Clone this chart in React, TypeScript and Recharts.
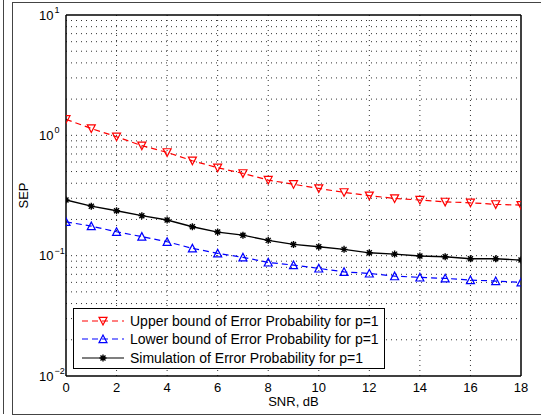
import React from 'react';
import { LineChart, Line, XAxis, YAxis, ReferenceLine, Legend } from 'recharts';

const FONT = '"Liberation Sans", Arial, Helvetica, sans-serif';

const SNR = [0, 1, 2, 3, 4, 5, 6, 7, 8, 9, 10, 11, 12, 13, 14, 15, 16, 17, 18];
const UPPER = [1.36, 1.14, 0.973, 0.82, 0.722, 0.615, 0.538, 0.483, 0.425, 0.392, 0.362, 0.336, 0.315, 0.299, 0.29, 0.28, 0.275, 0.267, 0.263];
const LOWER = [0.191, 0.176, 0.158, 0.144, 0.1305, 0.115, 0.1045, 0.0968, 0.0879, 0.0835, 0.0784, 0.0734, 0.0712, 0.0676, 0.066, 0.0648, 0.0627, 0.0615, 0.06];
const SIM = [0.29, 0.258, 0.236, 0.215, 0.198, 0.174, 0.157, 0.148, 0.134, 0.124, 0.1186, 0.1128, 0.1056, 0.103, 0.0993, 0.098, 0.0943, 0.0943, 0.0919];

const SERIES_NAMES = [
  'Upper bound of Error Probability for p=1',
  'Lower bound of Error Probability for p=1',
  'Simulation of Error Probability for p=1',
];

const X_TICKS = [0, 2, 4, 6, 8, 10, 12, 14, 16, 18];
const X_GRID = [2, 4, 6, 8, 10, 12, 14, 16];
const Y_TICKS = [0.01, 0.1, 1, 10];
const Y_TICK_EXP = ['\u22122', '\u22121', '0', '1'];
const Y_MINOR = [
  0.02, 0.03, 0.04, 0.05, 0.06, 0.07, 0.08, 0.09,
  0.2, 0.3, 0.4, 0.5, 0.6, 0.7, 0.8, 0.9,
  2, 3, 4, 5, 6, 7, 8, 9,
];
const Y_GRID = [...Y_MINOR, 0.1, 1];

const rows = SNR.map((s, i) => ({ snr: s, upper: UPPER[i], lower: LOWER[i], sim: SIM[i] }));

const RED = '#ff0000';
const BLUE = '#0000ff';
const BLACK = '#000000';

const DownTri = ({ cx, cy, color }: any) => (
  <path d={`M${cx - 4},${cy - 3.6} L${cx + 4},${cy - 3.6} L${cx},${cy + 4} Z`} fill="none" stroke={color} strokeWidth={1.2} />
);
const UpTri = ({ cx, cy, color }: any) => (
  <path d={`M${cx - 4},${cy + 3.6} L${cx + 4},${cy + 3.6} L${cx},${cy - 4} Z`} fill="none" stroke={color} strokeWidth={1.2} />
);
const Star = ({ cx, cy, color }: any) => (
  <path
    d={`M${cx - 3.5},${cy} L${cx + 3.5},${cy} M${cx},${cy - 3.5} L${cx},${cy + 3.5} M${cx - 2.5},${cy - 2.5} L${cx + 2.5},${cy + 2.5} M${cx - 2.5},${cy + 2.5} L${cx + 2.5},${cy - 2.5}`}
    fill="none"
    stroke={color}
    strokeWidth={1.4}
  />
);

const YTick = (props: any) => {
  const { x, y, payload } = props;
  const idx = Y_TICKS.indexOf(payload.value);
  const exp = idx >= 0 ? Y_TICK_EXP[idx] : '';
  return (
    <text x={x - 27} y={y + 4.6} fontSize={13} fill="#000" fontFamily={FONT}>
      <tspan>10</tspan>
      <tspan dx={1} dy={-6.5} fontSize={9}>{exp}</tspan>
    </text>
  );
};

const renderLegend = () => {
  const items = [
    { name: SERIES_NAMES[0], color: RED, dash: '6 4', M: DownTri },
    { name: SERIES_NAMES[1], color: BLUE, dash: '6 4', M: UpTri },
    { name: SERIES_NAMES[2], color: BLACK, dash: undefined, M: Star },
  ];
  return (
    <div
      style={{
        boxSizing: 'border-box',
        width: 312,
        height: 61,
        border: '1px solid #000',
        background: '#fff',
        paddingTop: 3,
        fontFamily: FONT,
        fontSize: 14,
        color: '#000',
      }}
    >
      {items.map((it) => (
        <div key={it.name} style={{ display: 'flex', alignItems: 'center', height: 18.3, whiteSpace: 'nowrap' }}>
          <svg width={56} height={18} style={{ display: 'block', flex: '0 0 56px' }}>
            <line x1={8} y1={9} x2={50} y2={9} stroke={it.color} strokeWidth={1.2} strokeDasharray={it.dash} />
            <it.M cx={29} cy={9} color={it.color} />
          </svg>
          <span style={{ lineHeight: '18px' }}>{it.name}</span>
        </div>
      ))}
    </div>
  );
};

const xLabel = (props: any) => {
  const vb = props.viewBox || {};
  return (
    <text x={vb.x + vb.width / 2} y={vb.y + 30} textAnchor="middle" fontSize={13} fill="#000" fontFamily={FONT}>
      SNR, dB
    </text>
  );
};

const yLabel = (props: any) => {
  const vb = props.viewBox || {};
  const x = vb.x + 12;
  const y = vb.y + vb.height / 2;
  return (
    <text x={x} y={y} textAnchor="middle" fontSize={13} fill="#000" fontFamily={FONT} transform={`rotate(-90 ${x} ${y})`}>
      SEP
    </text>
  );
};

const AX = { stroke: '#000', strokeWidth: 1.5 };
const TL = { stroke: '#000', strokeWidth: 1 };

export default function App() {
  return (
    <div style={{ position: 'absolute', left: 0, top: 0, width: 541, height: 417, overflow: 'hidden', background: '#fff' }}>
      <div style={{ position: 'absolute', left: 3, top: 0, width: 1, height: 414, background: '#444' }} />
      <div style={{ position: 'absolute', left: 12, top: 2, width: 600, height: 413, boxSizing: 'border-box', border: '1px solid #444' }} />
      <div style={{ position: 'absolute', left: 0, top: 0 }}>
        <LineChart width={541} height={417} data={rows} margin={{ top: 15, right: 20, bottom: 11, left: 16 }} style={{ fontFamily: FONT }}>
          <XAxis
            xAxisId="x"
            dataKey="snr"
            type="number"
            domain={[0, 18]}
            ticks={X_TICKS}
            interval={0}
            allowDataOverflow
            tickLine={false}
            axisLine={AX}
            tick={{ fill: '#000', fontSize: 13, fontFamily: FONT }}
            tickSize={5}
            tickMargin={2}
            height={30}
            label={xLabel}
          />
          <XAxis xAxisId="xb" type="number" domain={[0, 18]} ticks={X_TICKS} interval={0} allowDataOverflow orientation="bottom" mirror tick={false} tickSize={5} axisLine={false} tickLine={TL} height={30} />
          <XAxis xAxisId="xt" type="number" domain={[0, 18]} ticks={X_TICKS} interval={0} allowDataOverflow orientation="top" mirror tick={false} tickSize={5} axisLine={AX} tickLine={TL} height={30} />
          <YAxis
            yAxisId="y"
            type="number"
            scale="log"
            domain={[0.01, 10]}
            ticks={Y_TICKS}
            interval={0}
            allowDataOverflow
            width={50}
            tickLine={false}
            tickSize={0}
            tickMargin={0}
            axisLine={AX}
            tick={<YTick />}
            label={yLabel}
          />
          <YAxis yAxisId="yl" type="number" scale="log" domain={[0.01, 10]} ticks={Y_TICKS} interval={0} allowDataOverflow orientation="left" mirror tick={false} tickSize={5} axisLine={false} tickLine={TL} width={50} />
          <YAxis yAxisId="ylm" type="number" scale="log" domain={[0.01, 10]} ticks={Y_MINOR} interval={0} allowDataOverflow orientation="left" mirror tick={false} tickSize={3} axisLine={false} tickLine={TL} width={50} />
          <YAxis yAxisId="yr" type="number" scale="log" domain={[0.01, 10]} ticks={Y_TICKS} interval={0} allowDataOverflow orientation="right" mirror tick={false} tickSize={5} axisLine={AX} tickLine={TL} width={50} />
          <YAxis yAxisId="yrm" type="number" scale="log" domain={[0.01, 10]} ticks={Y_MINOR} interval={0} allowDataOverflow orientation="right" mirror tick={false} tickSize={3} axisLine={false} tickLine={TL} width={50} />

          {X_GRID.map((v) => (
            <ReferenceLine key={'gx' + v} x={v} xAxisId="x" yAxisId="y" stroke="#333" strokeWidth={1} strokeDasharray="1 4" />
          ))}
          {Y_GRID.map((v) => (
            <ReferenceLine key={'gy' + v} y={v} xAxisId="x" yAxisId="y" stroke="#333" strokeWidth={1} strokeDasharray="1 4" />
          ))}

          <Line
            xAxisId="x"
            yAxisId="y"
            dataKey="upper"
            name={SERIES_NAMES[0]}
            stroke={RED}
            strokeWidth={1.2}
            strokeDasharray="6 4"
            isAnimationActive={false}
            dot={(p: any) => <DownTri key={'u' + p.index} cx={p.cx} cy={p.cy} color={RED} />}
            activeDot={false}
          />
          <Line
            xAxisId="x"
            yAxisId="y"
            dataKey="lower"
            name={SERIES_NAMES[1]}
            stroke={BLUE}
            strokeWidth={1.2}
            strokeDasharray="6 4"
            isAnimationActive={false}
            dot={(p: any) => <UpTri key={'l' + p.index} cx={p.cx} cy={p.cy} color={BLUE} />}
            activeDot={false}
          />
          <Line
            xAxisId="x"
            yAxisId="y"
            dataKey="sim"
            name={SERIES_NAMES[2]}
            stroke={BLACK}
            strokeWidth={1.4}
            isAnimationActive={false}
            dot={(p: any) => <Star key={'s' + p.index} cx={p.cx} cy={p.cy} color={BLACK} />}
            activeDot={false}
          />
          <Legend
            layout="vertical"
            align="center"
            verticalAlign="middle"
            content={renderLegend}
            wrapperStyle={{ position: 'absolute', left: 73, top: 308, width: 312, height: 61, margin: 0, padding: 0 }}
          />
        </LineChart>
      </div>
    </div>
  );
}
